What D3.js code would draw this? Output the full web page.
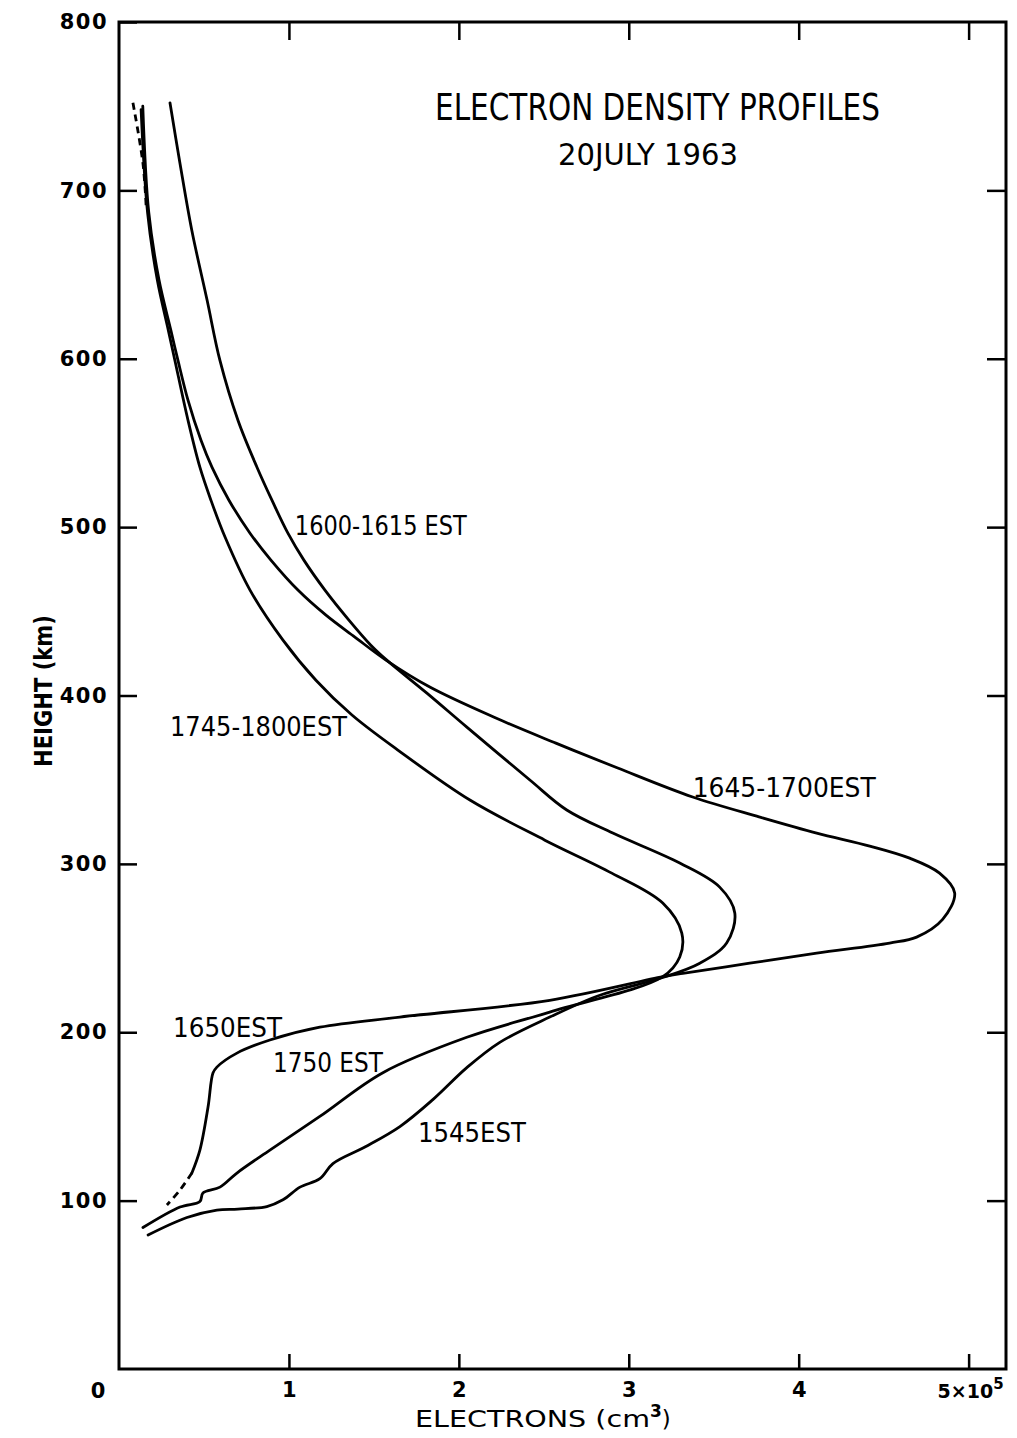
<!DOCTYPE html>
<html>
<head>
<meta charset="utf-8">
<script src="https://cdn.jsdelivr.net/npm/d3@7"></script>
<style>
  body { margin: 0; background: #fff; }
  svg { display: block; }
  .axis path, .axis line { stroke: #000; }
  text { fill: #000; font-family: "DejaVu Sans", sans-serif; }
</style>
</head>
<body>
<svg width="1017" height="1438"></svg>
<script>
// electron density (1e5 per cm3) vs height (km)
var p1600_1545 = [[0.30,752],[0.359,716],[0.429,676],[0.518,635],[0.594,599],[0.70,563.5],[0.812,535.6],[0.90,516],
  [0.994,496.4],[1.088,480.4],[1.212,462.6],[1.353,444.8],[1.482,429.9],[1.576,421],[1.812,401.4],[2.047,381.2],[2.418,349.8],
  [2.635,332],[2.906,318.3],[3.30,300.5],[3.535,286.2],[3.624,270.8],[3.576,253],[3.418,241],[3.2,232.5],
  [2.83,222],[2.535,209],[2.241,194],[2.047,179],[1.847,160],[1.653,144],[1.45,132],[1.259,122],[1.182,113],[1.065,108],
  [0.965,100.5],[0.87,96.5],[0.7,95],[0.576,94.4],[0.4,90],[0.171,79.6]];

var p1645_1650 = [[0.14,750],[0.175,687],[0.235,647],[0.305,617],[0.347,599],[0.406,575.4],[0.482,551.7],[0.547,535.6],
  [0.647,516],[0.771,496.4],[0.894,480.4],[1.053,462.6],[1.218,447.7],[1.388,434.7],[1.571,421],[1.829,405],[2.218,386.6],
  [2.571,371.7],[2.935,356.9],[3.376,339.7],[3.771,327.8],[4.106,318.3],[4.418,310.6],[4.653,303.4],[4.829,294.5],[4.918,282.7],
  [4.847,267],[4.694,256.5],[4.535,253],[4.106,247],[3.712,241],[3.318,235],[3.2,233],[2.535,219],[1.653,209],[1.182,203],
  [0.888,195.4],[0.694,187.6],[0.576,179.3],[0.553,175.8],[0.524,155.6],[0.476,130],[0.429,116.4]];

var p1650_dashed = [[0.429,116.4],[0.359,106.3],[0.282,97.4]];

var p1745_1750 = [[0.13,748],[0.168,687],[0.225,647],[0.29,617],[0.329,599],[0.406,563.5],[0.476,535.6],[0.541,516],
  [0.624,494.1],[0.771,462.6],[0.965,432.9],[1.159,409.1],[1.371,388.4],[1.641,367.6],[2.065,337.9],[2.506,314.1],
  [2.90,294.5],[3.2,276.7],[3.312,258.9],[3.3,244.7],[3.2,233],
  [2.535,212],[2.047,197],[1.553,176],[1.182,150],[0.888,130],[0.694,116.4],[0.594,108],[0.494,104.5],[0.476,99.5],
  [0.359,96.2],[0.141,84]];

var top_dashed = [[0.082,752],[0.141,716],[0.16,690]];

var xTicks = [0, 1, 2, 3, 4, 5];
var yTicks = [100, 200, 300, 400, 500, 600, 700, 800];

var curveLabels = [
  {text: "1600-1615 EST", x: 1.035, y: 495.2, w: 172},
  {text: "1745-1800EST", x: 0.30, y: 375.9, w: 177},
  {text: "1645-1700EST", x: 3.376, y: 339.7, w: 183},
  {text: "1650EST", x: 0.318, y: 197.1, w: 109},
  {text: "1750 EST", x: 0.906, y: 176.4, w: 110},
  {text: "1545EST", x: 1.759, y: 134.8, w: 108}
];

var svg = d3.select("svg");
var padL = 119, padR = 1006, padT = 22, padB = 1369;

var x = d3.scaleLinear().domain([0, 5.22]).range([padL, padR]);
var y = d3.scaleLinear().domain([0, 800]).range([padB, padT]);

// frame
svg.append("rect")
  .attr("x", padL).attr("y", padT)
  .attr("width", padR - padL).attr("height", padB - padT)
  .attr("fill", "none").attr("stroke", "#000").attr("stroke-width", 3);

// inward ticks on all sides
var yAxis = svg.append("g").attr("class", "axis")
  .attr("transform", "translate(" + padL + ",0)")
  .call(d3.axisLeft(y).tickValues(yTicks).tickSize(-18).tickPadding(11).tickFormat(d3.format("d")));
yAxis.select(".domain").remove();
yAxis.selectAll("line").attr("stroke-width", 2.5);
yAxis.selectAll("text").attr("font-size", 21).attr("font-weight", "bold")
  .attr("font-family", "DejaVu Sans").attr("letter-spacing", 1.5);

var xAxis = svg.append("g").attr("class", "axis")
  .attr("transform", "translate(0," + padB + ")")
  .call(d3.axisBottom(x).tickValues(xTicks).tickSize(-15).tickPadding(13)
    .tickFormat(function(d) { return d == 0 || d == 5 ? "" : d; }));
xAxis.select(".domain").remove();
xAxis.selectAll("line").attr("stroke-width", 2.5);
xAxis.selectAll("text").attr("font-size", 21).attr("font-weight", "bold").attr("font-family", "DejaVu Sans");
xAxis.selectAll(".tick").filter(function(d) { return d == 0; }).select("line").remove();

// corner zero and 5x10^5
svg.append("text").attr("x", x(0) - 21).attr("y", padB + 29)
  .attr("text-anchor", "middle").attr("font-size", 21).attr("font-weight", "bold").text("0");
var five = svg.append("text").attr("x", x(5) - 31).attr("y", padB + 29)
  .attr("font-size", 19).attr("font-weight", "bold");
five.append("tspan").text("5×10");
five.append("tspan").attr("dy", -9).attr("font-size", 15).text("5");

var topAxis = svg.append("g").attr("class", "axis")
  .attr("transform", "translate(0," + padT + ")")
  .call(d3.axisTop(x).tickValues([1, 2, 3, 4, 5]).tickSize(-18).tickFormat(""));
topAxis.select(".domain").remove();
topAxis.selectAll("line").attr("stroke-width", 2.5);

var rightAxis = svg.append("g").attr("class", "axis")
  .attr("transform", "translate(" + padR + ",0)")
  .call(d3.axisRight(y).tickValues(yTicks.slice(0, 7)).tickSize(-19).tickFormat(""));
rightAxis.select(".domain").remove();
rightAxis.selectAll("line").attr("stroke-width", 2.5);

// axis titles
var xt = svg.append("text").attr("x", 415).attr("y", 1427).attr("font-size", 23);
xt.append("tspan").attr("textLength", 235).attr("lengthAdjust", "spacingAndGlyphs").text("ELECTRONS (cm");
xt.append("tspan").attr("dy", -10).attr("font-size", 17).attr("font-weight", "bold").text("3");
xt.append("tspan").attr("dy", 10).text(")");

svg.append("text")
  .attr("transform", "translate(52," + 767 + ") rotate(-90)")
  .attr("font-size", 24).attr("font-weight", "bold")
  .attr("textLength", 152).attr("lengthAdjust", "spacingAndGlyphs")
  .text("HEIGHT (km)");

// title
svg.append("text").attr("x", 435).attr("y", 120).attr("font-size", 38)
  .attr("textLength", 445).attr("lengthAdjust", "spacingAndGlyphs")
  .text("ELECTRON DENSITY PROFILES");
svg.append("text").attr("x", 558).attr("y", 165).attr("font-size", 31)
  .attr("textLength", 180).attr("lengthAdjust", "spacingAndGlyphs")
  .text("20JULY 1963");

// profiles
var line = d3.line()
  .x(function(d) { return x(d[0]); })
  .y(function(d) { return y(d[1]); })
  .curve(d3.curveCatmullRom.alpha(0.5));

[p1600_1545, p1645_1650, p1745_1750].forEach(function(p) {
  svg.append("path").datum(p)
    .attr("d", line)
    .attr("fill", "none").attr("stroke", "#000")
    .attr("stroke-width", 2.8).attr("stroke-linejoin", "round").attr("stroke-linecap", "round");
});

[p1650_dashed, top_dashed].forEach(function(p) {
  svg.append("path").datum(p)
    .attr("d", line)
    .attr("fill", "none").attr("stroke", "#000")
    .attr("stroke-width", 2.8).attr("stroke-dasharray", "7,5");
});

// curve labels
svg.selectAll(".clabel").data(curveLabels).enter().append("text")
  .attr("class", "clabel")
  .attr("x", function(d) { return x(d.x); })
  .attr("y", function(d) { return y(d.y); })
  .attr("font-size", 27)
  .attr("textLength", function(d) { return d.w; })
  .attr("lengthAdjust", "spacingAndGlyphs")
  .text(function(d) { return d.text; });
</script>
</body>
</html>
